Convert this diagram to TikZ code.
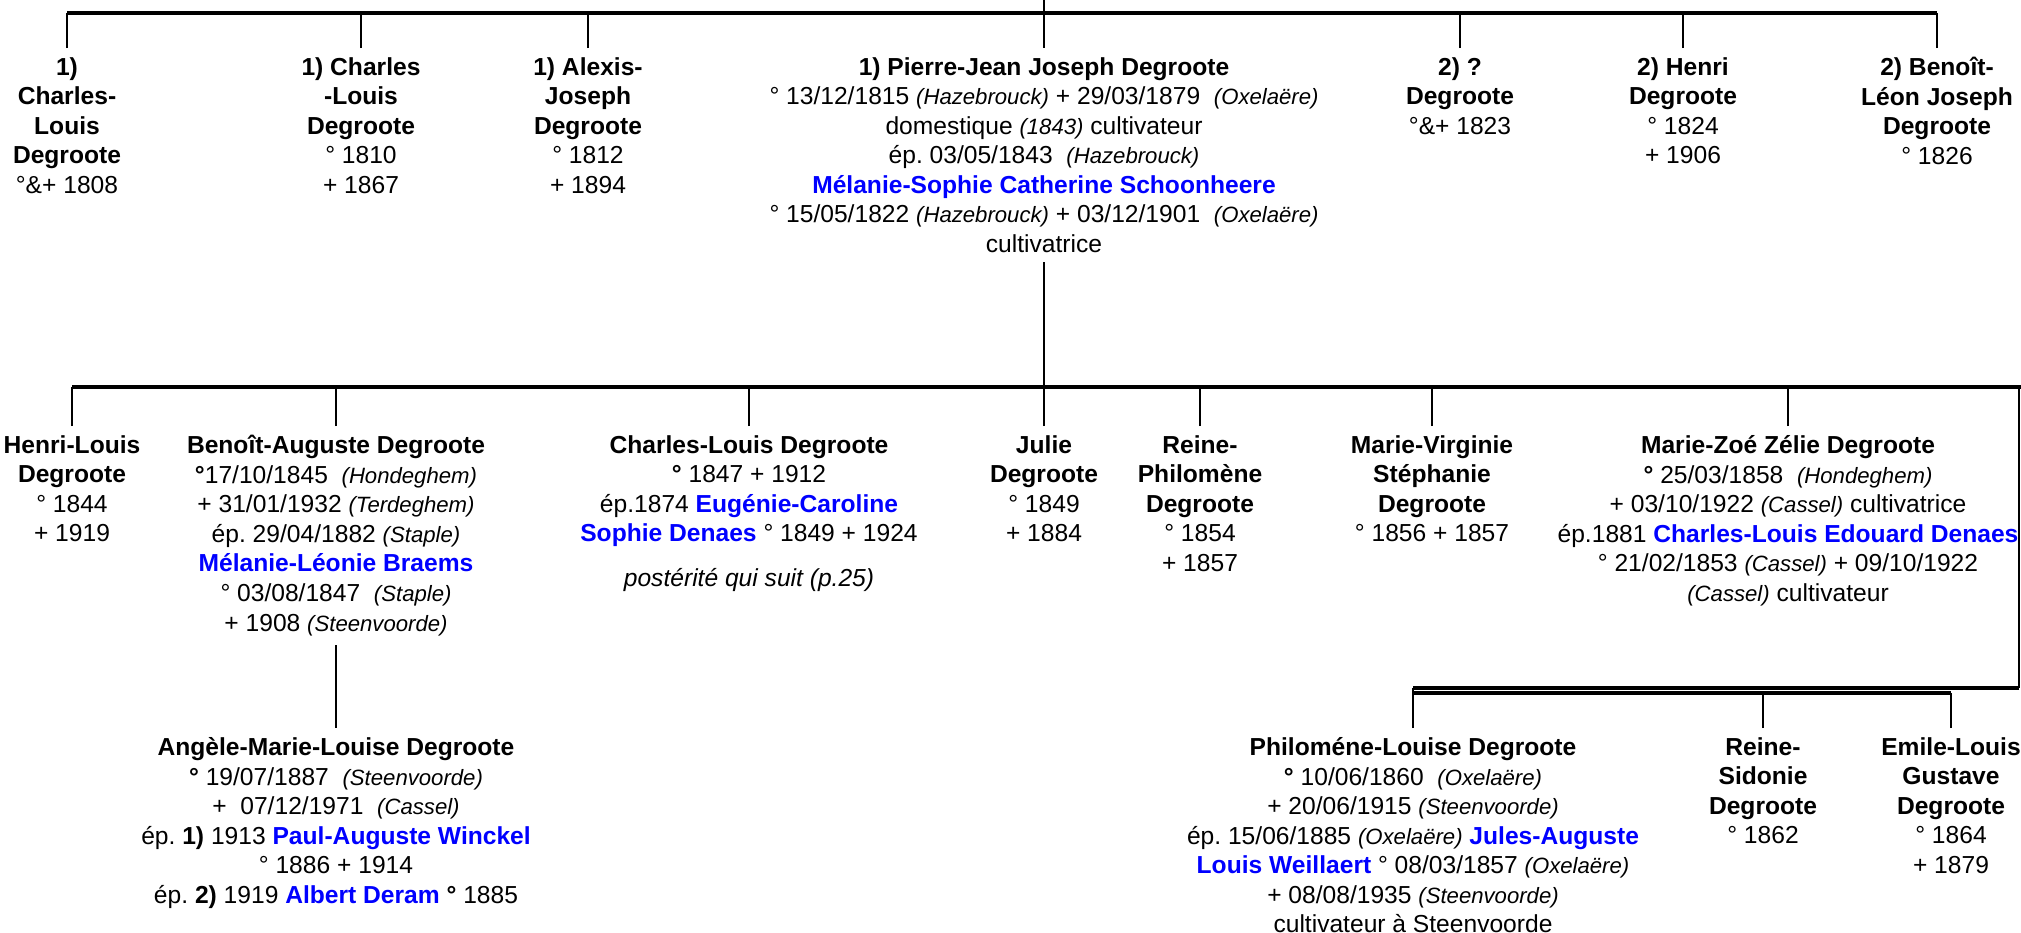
\documentclass[tikz,border=0pt]{standalone}
\usepackage{fontspec}
\setmainfont{Liberation Sans}
\usepackage{tikz}
\usepackage{xcolor}
\definecolor{spouseblue}{RGB}{0,0,255}

\newcommand{\lieu}[1]{{\fontsize{6.3}{8.4}\selectfont\itshape (#1)}}
\newcommand{\conj}[1]{\textcolor{spouseblue}{\bfseries #1}}

\tikzset{
  person/.style={anchor=north, align=center, inner sep=2.5pt, font={\fontsize{7}{8.4}\selectfont}},
  bar/.style={line width=0.9pt},
  drop/.style={line width=0.6pt},
}

\begin{document}
\begin{tikzpicture}
    \useasboundingbox (0,0) rectangle (20.21,-9.32);

    % generation 1
    \node[person] (c1) at (0.67,-0.48) {\textbf{1)}\\\textbf{Charles-}\\\textbf{Louis}\\\textbf{Degroote}\\°\&+ 1808};
    \node[person] (c2) at (3.61,-0.48) {\textbf{1) Charles}\\\textbf{-Louis}\\\textbf{Degroote}\\° 1810\\+ 1867};
    \node[person] (c3) at (5.88,-0.48) {\textbf{1) Alexis-}\\\textbf{Joseph}\\\textbf{Degroote}\\° 1812\\+ 1894};
    \node[person] (pj) at (10.44,-0.48) {\textbf{1) Pierre-Jean Joseph Degroote}\\
        ° 13/12/1815 \lieu{Hazebrouck} + 29/03/1879 \ \lieu{Oxelaëre}\\
        domestique \lieu{1843} cultivateur\\
        ép.\ 03/05/1843 \ \lieu{Hazebrouck}\\
        \conj{Mélanie-Sophie Catherine Schoonheere}\\
        ° 15/05/1822 \lieu{Hazebrouck} + 03/12/1901 \ \lieu{Oxelaëre}\\
        cultivatrice};
    \node[person] (c5) at (14.60,-0.48) {\textbf{2) ?}\\\textbf{Degroote}\\°\&+ 1823};
    \node[person] (c6) at (16.83,-0.48) {\textbf{2) Henri}\\\textbf{Degroote}\\° 1824\\+ 1906};
    \node[person] (c7) at (19.37,-0.48) {\textbf{2) Benoît-}\\\textbf{Léon Joseph}\\\textbf{Degroote}\\° 1826};

    \coordinate (root) at (10.44,0);
    \coordinate (bar1) at (0,-0.13);
    \draw[drop] (root) -- (pj.north);
    \draw[bar] (c1.north |- bar1) -- (c7.north |- bar1);
    \foreach \n in {c1,c2,c3,c5,c6,c7}
        \draw[drop] (\n.north) -- (\n.north |- bar1);

    % generation 2
    \node[person] (hl) at (0.72,-4.26) {\textbf{Henri-Louis}\\\textbf{Degroote}\\° 1844\\+ 1919};
    \node[person] (ba) at (3.36,-4.26) {\textbf{Benoît-Auguste Degroote}\\
        \textbf{°}17/10/1845 \ \lieu{Hondeghem}\\
        + 31/01/1932 \lieu{Terdeghem}\\
        ép.\ 29/04/1882 \lieu{Staple}\\
        \conj{Mélanie-Léonie Braems}\\
        ° 03/08/1847 \ \lieu{Staple}\\
        + 1908 \lieu{Steenvoorde}};
    \node[person] (cl) at (7.49,-4.26) {\textbf{Charles-Louis Degroote}\\
        \textbf{°} 1847 + 1912\\
        ép.1874 \conj{Eugénie-Caroline}\\
        \conj{Sophie Denaes} ° 1849 + 1924\\[4.3pt]
        \textit{postérité qui suit (p.25)}};
    \node[person] (ju) at (10.44,-4.26) {\textbf{Julie}\\\textbf{Degroote}\\° 1849\\+ 1884};
    \node[person] (rp) at (12.00,-4.26) {\textbf{Reine-}\\\textbf{Philomène}\\\textbf{Degroote}\\° 1854\\+ 1857};
    \node[person] (mv) at (14.32,-4.26) {\textbf{Marie-Virginie}\\\textbf{Stéphanie}\\\textbf{Degroote}\\° 1856 + 1857};
    \node[person] (mz) at (17.88,-4.26) {\textbf{Marie-Zoé Zélie Degroote}\\
        \textbf{°} 25/03/1858 \ \lieu{Hondeghem}\\
        + 03/10/1922 \lieu{Cassel} cultivatrice\\
        ép.1881 \conj{Charles-Louis Edouard Denaes}\\
        ° 21/02/1853 \lieu{Cassel} + 09/10/1922\\
        \lieu{Cassel} cultivateur};

    \coordinate (bar2) at (0,-3.87);
    \coordinate (edge2) at (20.19,-3.87);
    \coordinate (edge2r) at (20.21,-3.87);
    \draw[drop] (pj.south) -- (pj.south |- bar2);
    \draw[bar] (hl.north |- bar2) -- (edge2r);
    \foreach \n in {hl,ba,cl,ju,rp,mv,mz}
        \draw[drop] (\n.north) -- (\n.north |- bar2);

    % generation 3
    \node[person] (an) at (3.36,-7.28) {\textbf{Angèle-Marie-Louise Degroote}\\
        \textbf{°} 19/07/1887 \ \lieu{Steenvoorde}\\
        + \ 07/12/1971 \ \lieu{Cassel}\\
        ép.\ \textbf{1)} 1913 \conj{Paul-Auguste Winckel}\\
        ° 1886 + 1914\\
        ép.\ \textbf{2)} 1919 \conj{Albert Deram} \textbf{°} 1885};
    \node[person] (ph) at (14.13,-7.28) {\textbf{Philoméne-Louise Degroote}\\
        \textbf{°} 10/06/1860 \ \lieu{Oxelaëre}\\
        + 20/06/1915 \lieu{Steenvoorde}\\
        ép.\ 15/06/1885 \lieu{Oxelaëre} \conj{Jules-Auguste}\\
        \conj{Louis Weillaert} ° 08/03/1857 \lieu{Oxelaëre}\\
        + 08/08/1935 \lieu{Steenvoorde}\\
        cultivateur à Steenvoorde};
    \node[person] (rs) at (17.63,-7.28) {\textbf{Reine-}\\\textbf{Sidonie}\\\textbf{Degroote}\\° 1862};
    \node[person] (el) at (19.51,-7.28) {\textbf{Emile-Louis}\\\textbf{Gustave}\\\textbf{Degroote}\\° 1864\\+ 1879};

    \draw[drop] (ba.south) -- (an.north);

    \coordinate (bar3) at (0,-6.88);
    \coordinate (bar3b) at (0,-6.93);
    \draw[drop] (edge2) -- (edge2 |- bar3);
    \draw[bar] (edge2 |- bar3) -- (ph.north |- bar3);
    \draw[bar] (ph.north |- bar3b) -- (el.north |- bar3b);
    \draw[drop] (ph.north) -- (ph.north |- bar3);
    \foreach \n in {rs,el}
        \draw[drop] (\n.north) -- (\n.north |- bar3b);
\end{tikzpicture}
\end{document}
